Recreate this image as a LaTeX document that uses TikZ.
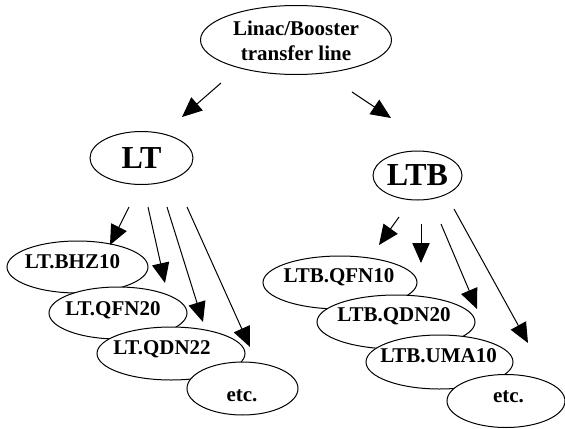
\documentclass[tikz,border=0pt]{standalone}
\usepackage{fontspec}
\setmainfont{Liberation Serif}
\usetikzlibrary{shapes.geometric,arrows.meta}
\begin{document}
\begin{tikzpicture}[x=0.75pt,y=-0.75pt,
  oval/.style={ellipse,draw,fill=white,line width=0.75pt,inner sep=0pt},
  lbl/.style={font=\fontsize{15.75pt}{19pt}\selectfont\bfseries,inner sep=0pt},
  big/.style={font=\fontsize{24pt}{28pt}\selectfont\bfseries,inner sep=0pt},
  arr/.style={line width=0.75pt,-{Triangle[length=15pt,width=13pt]}}]
\useasboundingbox (0,0) rectangle (565,429);
% top
\node[oval,minimum width=191*0.75,minimum height=69*0.75] (top) at (296,40) {};
\node[lbl,align=center] (topt) at (296,41) {Linac/Booster\\transfer line};
\node[oval,minimum width=103*0.75,minimum height=53*0.75] (lt) at (141.5,158) {};
\node[big] (ltt) at (141.5,158.5) {LT};
\node[oval,minimum width=89*0.75,minimum height=49*0.75] (ltb) at (417.5,175.5) {};
\node[big] (ltbt) at (417.5,175.5) {LTB};
% LT children
\node[oval,minimum width=141*0.75,minimum height=52*0.75] (bhz) at (77.5,267) {};
\node[lbl] (bhzt) at (72.5,262) {LT.BHZ10};
\node[oval,minimum width=138*0.75,minimum height=52*0.75] (qfn) at (118,313) {};
\node[lbl] (qfnt) at (113,310.5) {LT.QFN20};
\node[oval,minimum width=148*0.75,minimum height=53*0.75] (qdn) at (171,353.5) {};
\node[lbl] (qdnt) at (162,349.5) {LT.QDN22};
\node[oval,minimum width=111*0.75,minimum height=53*0.75] (etc1) at (242.5,388.5) {};
\node[lbl] (etc1t) at (242,395.5) {etc.};
% LTB children
\node[oval,minimum width=154*0.75,minimum height=53*0.75] (bqfn) at (340,282.5) {};
\node[lbl] (bqfnt) at (339,277.5) {LTB.QFN10};
\node[oval,minimum width=158*0.75,minimum height=54*0.75] (bqdn) at (396,322) {};
\node[lbl] (bqdnt) at (394,316.5) {LTB.QDN20};
\node[oval,minimum width=147*0.75,minimum height=54*0.75] (buma) at (439.5,362) {};
\node[lbl] (bumat) at (438.5,356) {LTB.UMA10};
\node[oval,minimum width=118*0.75,minimum height=53*0.75] (etc2) at (506,401) {};
\node[lbl] (etc2t) at (508.5,396.5) {etc.};
% arrow end points
\coordinate (t1s) at (221,83);  \coordinate (t1e) at (182,117);
\coordinate (t2s) at (352,92);  \coordinate (t2e) at (391,118);
\coordinate (l1s) at (129,207); \coordinate (l1e) at (110,245);
\coordinate (l2s) at (148,207); \coordinate (l2e) at (165,283);
\coordinate (l3s) at (167,207); \coordinate (l3e) at (203,322);
\coordinate (l4s) at (187,207); \coordinate (l4e) at (250,347);
\coordinate (r1s) at (399,217); \coordinate (r1e) at (379,245);
\coordinate (r2s) at (421,224); \coordinate (r2e) at (421,263);
\coordinate (r3s) at (441,224); \coordinate (r3e) at (477,309);
\coordinate (r4s) at (454,209); \coordinate (r4e) at (528,343);
\foreach \a in {t1,t2,l1,l2,l3,l4,r1,r2,r3,r4}
  \draw[arr] (\a s) -- (\a e);
\end{tikzpicture}
\end{document}
